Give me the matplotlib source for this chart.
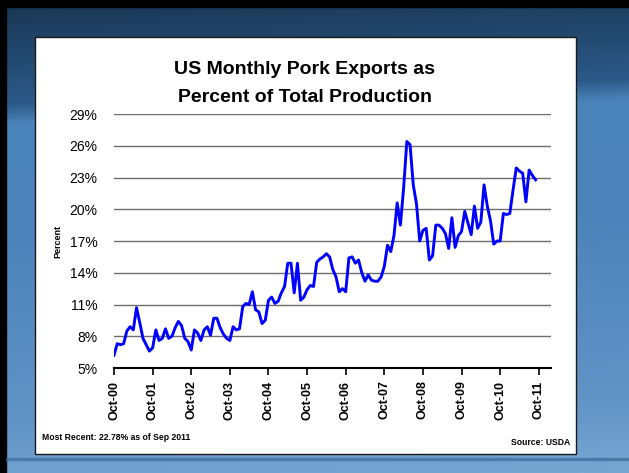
import numpy as np
import matplotlib
matplotlib.use("Agg")
import matplotlib.pyplot as plt
from matplotlib.patches import Rectangle
from matplotlib.colors import LinearSegmentedColormap

# ---- data: monthly share of US pork production exported, Oct 2000 - Sep 2011 ----
export_pct = [
    6.2, 7.3, 7.2, 7.3, 8.5, 8.9, 8.6, 10.7, 9.3, 7.8, 7.2, 6.6,      # Oct-00..Sep-01
    6.9, 8.6, 7.6, 7.8, 8.7, 7.8, 8.0, 8.8, 9.4, 9.0, 7.8, 7.5,       # Oct-01..Sep-02
    6.7, 8.6, 8.3, 7.6, 8.6, 8.9, 8.1, 9.7, 9.7, 8.8, 8.2, 7.8,       # Oct-02..Sep-03
    7.6, 8.9, 8.6, 8.7, 10.8, 11.1, 11.0, 12.2, 10.5, 10.3, 9.2, 9.5, # Oct-03..Sep-04
    11.4, 11.7, 11.1, 11.3, 12.1, 12.7, 14.9, 14.9, 12.1, 14.9, 11.4, 11.7,  # Oct-04..Sep-05
    12.4, 12.8, 12.7, 15.0, 15.3, 15.5, 15.8, 15.5, 14.3, 13.6, 12.2, 12.5,  # Oct-05..Sep-06
    12.2, 15.4, 15.5, 14.9, 15.2, 14.0, 13.2, 13.8, 13.3, 13.2, 13.2, 13.6,  # Oct-06..Sep-07
    14.6, 16.6, 16.0, 17.5, 20.6, 18.5, 22.0, 26.4, 26.1, 22.3, 20.5, 17.0,  # Oct-07..Sep-08
    18.0, 18.2, 15.2, 15.6, 18.5, 18.5, 18.2, 17.7, 16.3, 19.2, 16.4, 17.5,  # Oct-08..Sep-09
    17.9, 19.8, 18.7, 17.6, 20.3, 18.2, 18.8, 22.3, 20.3, 18.9, 16.7, 17.0,  # Oct-09..Sep-10
    17.0, 19.6, 19.5, 19.6, 21.8, 23.9, 23.6, 23.4, 20.7, 23.7, 23.2, 22.78, # Oct-10..Sep-11
]
year_labels = ["Oct-00", "Oct-01", "Oct-02", "Oct-03", "Oct-04", "Oct-05",
               "Oct-06", "Oct-07", "Oct-08", "Oct-09", "Oct-10", "Oct-11"]
y_ticks = [5, 8, 11, 14, 17, 20, 23, 26, 29]

FONT = "Liberation Sans"
W, H = 629, 473
fig = plt.figure(figsize=(W / 100, H / 100), dpi=100)

# ---- background (slide), pixel coordinates with y downwards ----
bg = fig.add_axes([0, 0, 1, 1], zorder=-10)
bg.set_axis_off()
cmap = LinearSegmentedColormap.from_list(
    "slide",
    [(0.0, "#1a3653"), (0.10, "#21466b"), (0.21, "#2c5a88"),
     (0.25, "#4b84ba"), (0.45, "#4a82b9"), (0.85, "#6193c6"), (1.0, "#77a6d2")])
yy = np.linspace(0, 1, H)[:, None]
xx = np.linspace(0, 1, W)[None, :]
grad = np.clip(yy * 0.95 + xx * 0.05, 0, 1)
bg.imshow(grad, cmap=cmap, aspect="auto", extent=[0, W, H, 0], interpolation="bilinear")
bg.set_xlim(0, W)
bg.set_ylim(H, 0)
# black borders on top and left
bg.add_patch(Rectangle((0, 0), W, 7, color="black"))
bg.add_patch(Rectangle((0, 0), 6, H, color="black"))
# darker strip near bottom
bg.add_patch(Rectangle((6, 458), W, 2, color="#3c6c9c", alpha=0.6))

# white chart panel
px0, py0, px1, py1 = 35, 37, 576, 454
bg.add_patch(Rectangle((px0, py0), px1 - px0, py1 - py0,
                       facecolor="white", edgecolor="#1a1a1a", linewidth=1.0))

# ---- chart ----
ax_l, ax_r, ax_t, ax_b = 114, 551, 114, 368
ax = fig.add_axes([ax_l / W, 1 - ax_b / H, (ax_r - ax_l) / W, (ax_b - ax_t) / H])
ax.set_facecolor("none")

months = np.arange(len(export_pct))
ax.plot(months, export_pct, color="#0000ff", linewidth=2.1, solid_joinstyle="round", zorder=3)

ax.set_xlim(0, 135.8)
ax.set_ylim(5, 29)
ax.set_yticks(y_ticks)
ax.set_yticklabels([f"{v}%" for v in y_ticks], fontsize=10, fontfamily=FONT)
ax.yaxis.grid(True, color="#6e6e6e", linewidth=1.0)
ax.set_axisbelow(True)
ax.tick_params(axis="y", length=0, pad=12)

ax.set_xticks(np.arange(len(year_labels)) * 12)
ax.set_xticklabels(year_labels, rotation=90, fontsize=9, fontweight="bold", fontfamily=FONT)
ax.tick_params(axis="x", direction="out", length=5, width=1.2, color="black", pad=4)

for s in ["left", "right", "top"]:
    ax.spines[s].set_visible(False)
ax.spines["bottom"].set_color("black")
ax.spines["bottom"].set_linewidth(1.5)

fig.text(58 / W, 1 - 241 / H, "Percent", rotation=90, ha="center", va="center",
         fontsize=6.5, fontweight="bold", fontfamily=FONT)

fig.text(305 / W, 1 - 70 / H, "US Monthly Pork Exports as", ha="center", va="center",
         fontsize=14, fontweight="bold", fontfamily=FONT)
fig.text(305 / W, 1 - 97 / H, "Percent of Total Production", ha="center", va="center",
         fontsize=14, fontweight="bold", fontfamily=FONT)

fig.text(42 / W, 1 - 437 / H, "Most Recent: 22.78% as of Sep 2011", ha="left", va="center",
         fontsize=6.2, fontweight="bold", fontfamily=FONT)
fig.text(570 / W, 1 - 442 / H, "Source: USDA", ha="right", va="center",
         fontsize=6.2, fontweight="bold", fontfamily=FONT)

fig.savefig("out.png", dpi=100)
